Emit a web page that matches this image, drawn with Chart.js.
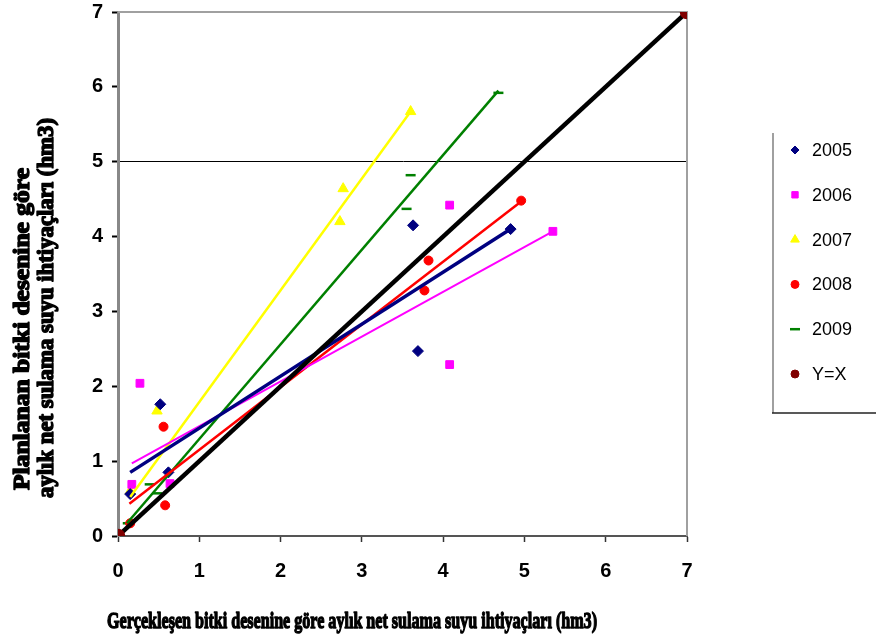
<!DOCTYPE html>
<html>
<head>
<meta charset="utf-8">
<script src="https://cdn.jsdelivr.net/npm/chart.js@4/dist/chart.umd.min.js"></script>
<style>
  html, body { margin: 0; padding: 0; background: #fff; }
  #wrap { width: 876px; height: 643px; }
</style>
</head>
<body>
<div id="wrap"><canvas id="c" width="876" height="643"></canvas></div>
<script>
let x2005 = [0.15, 0.52, 0.62, 3.63, 3.69, 4.83]
let y2005 = [0.56, 1.76, 0.85, 4.15, 2.47, 4.10]
let x2006 = [0.17, 0.27, 0.64, 4.08, 4.08, 5.35]
let y2006 = [0.69, 2.04, 0.70, 4.42, 2.29, 4.07]
let x2007 = [0.15, 0.48, 2.73, 2.77, 3.60]
let y2007 = [0.60, 1.67, 4.20, 4.64, 5.67]
let x2008 = [0.15, 0.56, 0.58, 3.77, 3.82, 4.96]
let y2008 = [0.17, 1.46, 0.41, 3.28, 3.68, 4.48]
let x2009 = [0.12, 0.39, 0.48, 3.55, 3.60, 4.68]
let y2009 = [0.17, 0.69, 0.57, 4.37, 4.82, 5.92]
let xYX = [0, 7]
let yYX = [0, 7]

// linear trend lines (start / end)
let trendX2005 = [0.15, 4.83], trendY2005 = [0.85, 4.10]
let trendX2006 = [0.17, 5.35], trendY2006 = [0.97, 4.07]
let trendX2007 = [0.15, 3.60], trendY2007 = [0.52, 5.67]
let trendX2008 = [0.14, 4.96], trendY2008 = [0.43, 4.47]
let trendX2009 = [0.11, 4.68], trendY2009 = [0.17, 5.95]

let seriesNames = ['2005', '2006', '2007', '2008', '2009', 'Y=X']
let axisTicks = [0, 1, 2, 3, 4, 5, 6, 7]

let xTitle = 'Gerçekleşen bitki desenine göre aylık net sulama suyu ihtiyaçları (hm3)'
let yTitle = ['Planlanan bitki desenine göre', 'aylık net sulama suyu ihtiyaçları (hm3)']

function pts(xs, ys) {
  let out = []
  for (let i = 0; i < xs.length; ++i) out.push({x: xs[i], y: ys[i]})
  return out
}

let markers = [
  {style: 'rectRot', color: '#000080', radius: 5.5, legendRadius: 4},
  {style: 'rect', color: '#ff00ff', radius: 5.5, legendRadius: 4.5},
  {style: 'triangle', color: '#ffff00', radius: 6, legendRadius: 5},
  {style: 'circle', color: '#ff0000', radius: 4.5, legendRadius: 4},
  {style: 'line', color: '#008000', radius: 5, legendRadius: 5},
  {style: 'circle', color: '#800000', radius: 5, legendRadius: 4},
]

let pointSets = [pts(x2005, y2005), pts(x2006, y2006), pts(x2007, y2007), pts(x2008, y2008), pts(x2009, y2009)]
let trendSets = [
  pts(trendX2005, trendY2005), pts(trendX2006, trendY2006), pts(trendX2007, trendY2007),
  pts(trendX2008, trendY2008), pts(trendX2009, trendY2009),
]
let trendWidths = [3.5, 2, 2.5, 2.5, 2.5]

let datasets = []
// Y=X line on top of everything
datasets.push({
  label: 'Y=X',
  data: pts(xYX, yYX),
  showLine: true,
  borderColor: '#000',
  borderWidth: 4.5,
  pointStyle: 'circle',
  pointRadius: 5,
  pointBackgroundColor: '#800000',
  pointBorderColor: '#800000',
  order: 0,
})
for (let i = 0; i < 5; ++i) {
  datasets.push({
    label: seriesNames[i] + ' trend',
    data: trendSets[i],
    showLine: true,
    borderColor: markers[i].color,
    borderWidth: trendWidths[i],
    pointRadius: 0,
    order: 1,
  })
  datasets.push({
    label: seriesNames[i],
    data: pointSets[i],
    showLine: false,
    pointStyle: markers[i].style,
    pointRadius: markers[i].radius,
    pointBackgroundColor: markers[i].color,
    pointBorderColor: markers[i].color,
    pointBorderWidth: markers[i].style == 'line' ? 2.5 : 1,
    order: 2,
  })
}

function drawFitted(ctx, text, cx, cy, width, rot) {
  ctx.save()
  ctx.translate(cx, cy)
  ctx.rotate(rot)
  let w = ctx.measureText(text).width
  ctx.scale(width / w, 1)
  ctx.textAlign = 'center'
  ctx.textBaseline = 'middle'
  ctx.strokeText(text, 0, 0)
  ctx.fillText(text, 0, 0)
  ctx.restore()
}

let decorations = {
  id: 'decorations',
  beforeDatasetsDraw(chart) {
    let a = chart.chartArea
    let ctx = chart.ctx
    ctx.save()
    ctx.strokeStyle = '#a0a0a0'
    ctx.lineWidth = 2
    ctx.beginPath()
    ctx.moveTo(a.left, a.top)
    ctx.lineTo(a.right, a.top)
    ctx.lineTo(a.right, a.bottom)
    ctx.stroke()
    ctx.restore()
  },
  afterDraw(chart) {
    let ctx = chart.ctx
    ctx.save()
    ctx.fillStyle = '#000'
    ctx.strokeStyle = '#000'
    ctx.lineWidth = 1.4
    ctx.lineJoin = 'round'
    ctx.font = 'bold 24px "Liberation Serif"'
    drawFitted(ctx, xTitle, 352, 622, 490, 0)
    ctx.font = 'bold 23px "Liberation Serif"'
    drawFitted(ctx, yTitle[0], 23, 329, 322, -Math.PI / 2)
    drawFitted(ctx, yTitle[1], 47, 308, 380, -Math.PI / 2)

    // legend box
    ctx.strokeStyle = '#a0a0a0'
    ctx.lineWidth = 2
    ctx.beginPath()
    ctx.moveTo(773, 133)
    ctx.lineTo(773, 413)
    ctx.stroke()
    ctx.strokeStyle = '#222'
    ctx.lineWidth = 1.5
    ctx.beginPath()
    ctx.moveTo(772, 413)
    ctx.lineTo(876, 413)
    ctx.stroke()

    ctx.font = '18px "Liberation Sans"'
    ctx.textAlign = 'left'
    ctx.textBaseline = 'middle'
    for (let i = 0; i < seriesNames.length; ++i) {
      let y = 150 + i * 44.8
      let m = markers[i]
      ctx.fillStyle = m.color
      ctx.strokeStyle = m.color
      ctx.lineWidth = m.style == 'line' ? 2.5 : 1
      Chart.helpers.drawPoint(ctx, {pointStyle: m.style, radius: m.legendRadius, rotation: 0, borderWidth: ctx.lineWidth}, 795, y)
      ctx.fillStyle = '#000'
      ctx.fillText(seriesNames[i], 812, y + 1)
    }
    ctx.restore()
  },
}

let tickFont = {family: '"Liberation Sans"', size: 20, weight: 'bold'}

new Chart(document.getElementById('c'), {
  type: 'scatter',
  data: {datasets: datasets},
  plugins: [decorations],
  options: {
    responsive: false,
    animation: false,
    events: [],
    layout: {padding: {left: 0, top: 12, right: 189, bottom: 0}},
    plugins: {legend: {display: false}, tooltip: {enabled: false}},
    scales: {
      x: {
        type: 'linear',
        min: 0,
        max: 7,
        afterFit: s => { s.height = 643 - 536; s.paddingLeft = 0; s.paddingRight = 0 },
        afterBuildTicks: s => { s.ticks = axisTicks.map(v => ({value: v})) },
        ticks: {color: '#000', font: tickFont, padding: 17},
        grid: {drawOnChartArea: false, tickLength: 6, tickColor: '#333', tickWidth: 1.5},
        border: {color: '#555', width: 2},
      },
      y: {
        type: 'linear',
        min: 0,
        max: 7,
        afterFit: s => { s.width = 118; s.paddingTop = 0; s.paddingBottom = 0 },
        afterBuildTicks: s => { s.ticks = axisTicks.map(v => ({value: v})) },
        ticks: {color: '#000', font: tickFont, padding: 9},
        grid: {
          color: c => (c.tick && c.tick.value === 5) ? '#000' : 'rgba(0,0,0,0)',
          lineWidth: 1,
          tickLength: 6,
          tickColor: '#000',
          tickWidth: 2,
        },
        border: {color: '#888', width: 3},
      },
    },
  },
})
</script>
</body>
</html>
